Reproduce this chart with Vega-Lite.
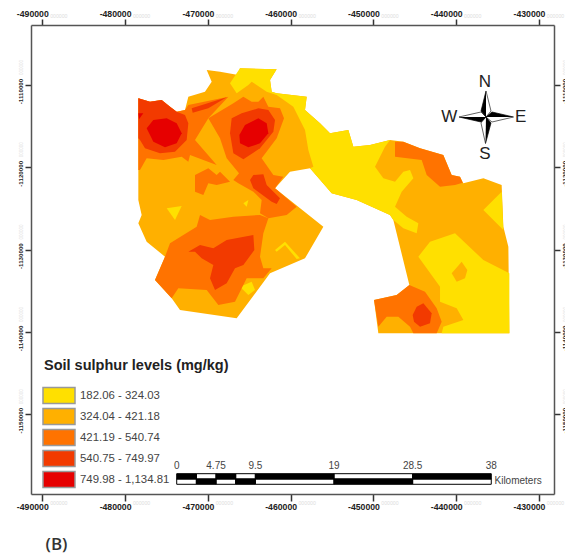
{"$schema":"https://vega.github.io/schema/vega-lite/v6.json","width":523,"height":469,"autosize":"none","padding":{"left":31,"top":25,"right":11,"bottom":63},"background":"white","config":{"view":{"stroke":null},"font":"Liberation Sans"},
"datasets":{
"anchor":[{"x":-490000,"y":-1110000}],
"map":[
{"p":"base","c":"324.04 - 421.18","i":0,"x":-478400,"y":-1111620},{"p":"base","c":"324.04 - 421.18","i":1,"x":-476990,"y":-1112025},{"p":"base","c":"324.04 - 421.18","i":2,"x":-475580,"y":-1111820},{"p":"base","c":"324.04 - 421.18","i":3,"x":-474570,"y":-1112630},{"p":"base","c":"324.04 - 421.18","i":4,"x":-473770,"y":-1113240},{"p":"base","c":"324.04 - 421.18","i":5,"x":-472760,"y":-1113040},{"p":"base","c":"324.04 - 421.18","i":6,"x":-472360,"y":-1111420},{"p":"base","c":"324.04 - 421.18","i":7,"x":-470350,"y":-1110810},{"p":"base","c":"324.04 - 421.18","i":8,"x":-469540,"y":-1109595},{"p":"base","c":"324.04 - 421.18","i":9,"x":-470140,"y":-1108180},{"p":"base","c":"324.04 - 421.18","i":10,"x":-468530,"y":-1108380},{"p":"base","c":"324.04 - 421.18","i":11,"x":-466320,"y":-1108785},{"p":"base","c":"324.04 - 421.18","i":12,"x":-466120,"y":-1107975},{"p":"base","c":"324.04 - 421.18","i":13,"x":-461690,"y":-1108100},{"p":"base","c":"324.04 - 421.18","i":14,"x":-462490,"y":-1109390},{"p":"base","c":"324.04 - 421.18","i":15,"x":-462290,"y":-1110810},{"p":"base","c":"324.04 - 421.18","i":16,"x":-461690,"y":-1111010},{"p":"base","c":"324.04 - 421.18","i":17,"x":-458060,"y":-1111420},{"p":"base","c":"324.04 - 421.18","i":18,"x":-458265,"y":-1113040},{"p":"base","c":"324.04 - 421.18","i":19,"x":-456450,"y":-1114660},{"p":"base","c":"324.04 - 421.18","i":20,"x":-455245,"y":-1115870},{"p":"base","c":"324.04 - 421.18","i":21,"x":-453030,"y":-1115470},{"p":"base","c":"324.04 - 421.18","i":22,"x":-452425,"y":-1117490},{"p":"base","c":"324.04 - 421.18","i":23,"x":-450413,"y":-1117290},{"p":"base","c":"324.04 - 421.18","i":24,"x":-447996,"y":-1116680},{"p":"base","c":"324.04 - 421.18","i":25,"x":-446386,"y":-1116885},{"p":"base","c":"324.04 - 421.18","i":26,"x":-444370,"y":-1117695},{"p":"base","c":"324.04 - 421.18","i":27,"x":-441560,"y":-1118505},{"p":"base","c":"324.04 - 421.18","i":28,"x":-440550,"y":-1120935},{"p":"base","c":"324.04 - 421.18","i":29,"x":-439540,"y":-1121140},{"p":"base","c":"324.04 - 421.18","i":30,"x":-439140,"y":-1121950},{"p":"base","c":"324.04 - 421.18","i":31,"x":-436720,"y":-1121340},{"p":"base","c":"324.04 - 421.18","i":32,"x":-434510,"y":-1122150},{"p":"base","c":"324.04 - 421.18","i":33,"x":-434305,"y":-1127210},{"p":"base","c":"324.04 - 421.18","i":34,"x":-433700,"y":-1129640},{"p":"base","c":"324.04 - 421.18","i":35,"x":-433580,"y":-1140170},{"p":"base","c":"324.04 - 421.18","i":36,"x":-449406,"y":-1140170},{"p":"base","c":"324.04 - 421.18","i":37,"x":-449930,"y":-1136120},{"p":"base","c":"324.04 - 421.18","i":38,"x":-447190,"y":-1135515},{"p":"base","c":"324.04 - 421.18","i":39,"x":-445660,"y":-1134300},{"p":"base","c":"324.04 - 421.18","i":40,"x":-447594,"y":-1126400},{"p":"base","c":"324.04 - 421.18","i":41,"x":-447997,"y":-1125795},{"p":"base","c":"324.04 - 421.18","i":42,"x":-452024,"y":-1123970},{"p":"base","c":"324.04 - 421.18","i":43,"x":-455044,"y":-1123160},{"p":"base","c":"324.04 - 421.18","i":44,"x":-457660,"y":-1120125},{"p":"base","c":"324.04 - 421.18","i":45,"x":-460078,"y":-1120530},{"p":"base","c":"324.04 - 421.18","i":46,"x":-461890,"y":-1122555},{"p":"base","c":"324.04 - 421.18","i":47,"x":-456050,"y":-1127210},{"p":"base","c":"324.04 - 421.18","i":48,"x":-458266,"y":-1131060},{"p":"base","c":"324.04 - 421.18","i":49,"x":-462494,"y":-1132880},{"p":"base","c":"324.04 - 421.18","i":50,"x":-466520,"y":-1138350},{"p":"base","c":"324.04 - 421.18","i":51,"x":-473365,"y":-1137340},{"p":"base","c":"324.04 - 421.18","i":52,"x":-474370,"y":-1135920},{"p":"base","c":"324.04 - 421.18","i":53,"x":-476386,"y":-1133690},{"p":"base","c":"324.04 - 421.18","i":54,"x":-475178,"y":-1130860},{"p":"base","c":"324.04 - 421.18","i":55,"x":-477392,"y":-1129035},{"p":"base","c":"324.04 - 421.18","i":56,"x":-478400,"y":-1126805},{"p":"base","c":"324.04 - 421.18","i":57,"x":-477997,"y":-1125795},{"p":"base","c":"324.04 - 421.18","i":58,"x":-478400,"y":-1123970},
{"p":"y1","c":"182.06 - 324.03","i":0,"x":-466120,"y":-1107975},{"p":"y1","c":"182.06 - 324.03","i":1,"x":-461690,"y":-1108100},{"p":"y1","c":"182.06 - 324.03","i":2,"x":-462490,"y":-1109390},{"p":"y1","c":"182.06 - 324.03","i":3,"x":-462290,"y":-1110810},{"p":"y1","c":"182.06 - 324.03","i":4,"x":-461690,"y":-1111010},{"p":"y1","c":"182.06 - 324.03","i":5,"x":-458060,"y":-1111420},{"p":"y1","c":"182.06 - 324.03","i":6,"x":-458265,"y":-1113040},{"p":"y1","c":"182.06 - 324.03","i":7,"x":-456450,"y":-1114660},{"p":"y1","c":"182.06 - 324.03","i":8,"x":-455245,"y":-1115870},{"p":"y1","c":"182.06 - 324.03","i":9,"x":-453030,"y":-1115470},{"p":"y1","c":"182.06 - 324.03","i":10,"x":-452425,"y":-1117490},{"p":"y1","c":"182.06 - 324.03","i":11,"x":-450413,"y":-1117290},{"p":"y1","c":"182.06 - 324.03","i":12,"x":-447996,"y":-1116680},{"p":"y1","c":"182.06 - 324.03","i":13,"x":-448600,"y":-1117490},{"p":"y1","c":"182.06 - 324.03","i":14,"x":-449810,"y":-1119922},{"p":"y1","c":"182.06 - 324.03","i":15,"x":-448803,"y":-1121340},{"p":"y1","c":"182.06 - 324.03","i":16,"x":-447393,"y":-1121745},{"p":"y1","c":"182.06 - 324.03","i":17,"x":-446386,"y":-1120530},{"p":"y1","c":"182.06 - 324.03","i":18,"x":-445580,"y":-1120327},{"p":"y1","c":"182.06 - 324.03","i":19,"x":-445178,"y":-1121340},{"p":"y1","c":"182.06 - 324.03","i":20,"x":-446588,"y":-1122960},{"p":"y1","c":"182.06 - 324.03","i":21,"x":-447393,"y":-1124780},{"p":"y1","c":"182.06 - 324.03","i":22,"x":-445984,"y":-1125997},{"p":"y1","c":"182.06 - 324.03","i":23,"x":-444574,"y":-1126807},{"p":"y1","c":"182.06 - 324.03","i":24,"x":-444775,"y":-1128020},{"p":"y1","c":"182.06 - 324.03","i":25,"x":-446386,"y":-1127415},{"p":"y1","c":"182.06 - 324.03","i":26,"x":-447594,"y":-1126400},{"p":"y1","c":"182.06 - 324.03","i":27,"x":-447997,"y":-1125795},{"p":"y1","c":"182.06 - 324.03","i":28,"x":-452024,"y":-1123970},{"p":"y1","c":"182.06 - 324.03","i":29,"x":-455044,"y":-1123160},{"p":"y1","c":"182.06 - 324.03","i":30,"x":-457660,"y":-1120125},{"p":"y1","c":"182.06 - 324.03","i":31,"x":-457257,"y":-1119922},{"p":"y1","c":"182.06 - 324.03","i":32,"x":-457862,"y":-1117897},{"p":"y1","c":"182.06 - 324.03","i":33,"x":-458264,"y":-1115467},{"p":"y1","c":"182.06 - 324.03","i":34,"x":-459674,"y":-1112632},{"p":"y1","c":"182.06 - 324.03","i":35,"x":-461687,"y":-1111215},{"p":"y1","c":"182.06 - 324.03","i":36,"x":-462895,"y":-1110810},{"p":"y1","c":"182.06 - 324.03","i":37,"x":-464707,"y":-1109595},{"p":"y1","c":"182.06 - 324.03","i":38,"x":-465111,"y":-1110000},{"p":"y1","c":"182.06 - 324.03","i":39,"x":-466520,"y":-1111012},{"p":"y1","c":"182.06 - 324.03","i":40,"x":-467325,"y":-1109797},
{"p":"y2","c":"182.06 - 324.03","i":0,"x":-444574,"y":-1130857},{"p":"y2","c":"182.06 - 324.03","i":1,"x":-443164,"y":-1129035},{"p":"y2","c":"182.06 - 324.03","i":2,"x":-440145,"y":-1128022},{"p":"y2","c":"182.06 - 324.03","i":3,"x":-436721,"y":-1131262},{"p":"y2","c":"182.06 - 324.03","i":4,"x":-433580,"y":-1132882},{"p":"y2","c":"182.06 - 324.03","i":5,"x":-433580,"y":-1140172},{"p":"y2","c":"182.06 - 324.03","i":6,"x":-441755,"y":-1140172},{"p":"y2","c":"182.06 - 324.03","i":7,"x":-441554,"y":-1139362},{"p":"y2","c":"182.06 - 324.03","i":8,"x":-439137,"y":-1138552},{"p":"y2","c":"182.06 - 324.03","i":9,"x":-439943,"y":-1137135},{"p":"y2","c":"182.06 - 324.03","i":10,"x":-441956,"y":-1136325},{"p":"y2","c":"182.06 - 324.03","i":11,"x":-441956,"y":-1134502},
{"p":"o1","c":"324.04 - 421.18","i":0,"x":-440547,"y":-1132882},{"p":"o1","c":"324.04 - 421.18","i":1,"x":-439340,"y":-1131465},{"p":"o1","c":"324.04 - 421.18","i":2,"x":-438654,"y":-1132477},{"p":"o1","c":"324.04 - 421.18","i":3,"x":-438936,"y":-1133490},{"p":"o1","c":"324.04 - 421.18","i":4,"x":-439943,"y":-1133895},
{"p":"y3","c":"182.06 - 324.03","i":0,"x":-436721,"y":-1125187},{"p":"y3","c":"182.06 - 324.03","i":1,"x":-434506,"y":-1122960},{"p":"y3","c":"182.06 - 324.03","i":2,"x":-434305,"y":-1127617},
{"p":"y4","c":"182.06 - 324.03","i":0,"x":-474976,"y":-1124985},{"p":"y4","c":"182.06 - 324.03","i":1,"x":-473164,"y":-1124701},{"p":"y4","c":"182.06 - 324.03","i":2,"x":-473970,"y":-1126402},
{"p":"y5","c":"182.06 - 324.03","i":0,"x":-465714,"y":-1124377},{"p":"y5","c":"182.06 - 324.03","i":1,"x":-465110,"y":-1123972},{"p":"y5","c":"182.06 - 324.03","i":2,"x":-465311,"y":-1124782},
{"p":"y6","c":"182.06 - 324.03","i":0,"x":-466117,"y":-1134502},{"p":"y6","c":"182.06 - 324.03","i":1,"x":-464708,"y":-1133895},{"p":"y6","c":"182.06 - 324.03","i":2,"x":-464305,"y":-1134907},{"p":"y6","c":"182.06 - 324.03","i":3,"x":-465110,"y":-1135515},
{"p":"y7","c":"182.06 - 324.03","i":0,"x":-461888,"y":-1130047},{"p":"y7","c":"182.06 - 324.03","i":1,"x":-460680,"y":-1129035},{"p":"y7","c":"182.06 - 324.03","i":2,"x":-458868,"y":-1131060},{"p":"y7","c":"182.06 - 324.03","i":3,"x":-459270,"y":-1131140},{"p":"y7","c":"182.06 - 324.03","i":4,"x":-460680,"y":-1129440},{"p":"y7","c":"182.06 - 324.03","i":5,"x":-461687,"y":-1130250},
{"p":"c1","c":"421.19 - 540.74","i":0,"x":-478400,"y":-1111620},{"p":"c1","c":"421.19 - 540.74","i":1,"x":-476990,"y":-1112025},{"p":"c1","c":"421.19 - 540.74","i":2,"x":-475580,"y":-1111820},{"p":"c1","c":"421.19 - 540.74","i":3,"x":-474570,"y":-1112630},{"p":"c1","c":"421.19 - 540.74","i":4,"x":-473770,"y":-1113240},{"p":"c1","c":"421.19 - 540.74","i":5,"x":-472760,"y":-1113040},{"p":"c1","c":"421.19 - 540.74","i":6,"x":-472360,"y":-1112430},{"p":"c1","c":"421.19 - 540.74","i":7,"x":-467526,"y":-1111417},{"p":"c1","c":"421.19 - 540.74","i":8,"x":-469943,"y":-1114050},{"p":"c1","c":"421.19 - 540.74","i":9,"x":-471553,"y":-1116682},{"p":"c1","c":"421.19 - 540.74","i":10,"x":-468936,"y":-1119720},{"p":"c1","c":"421.19 - 540.74","i":11,"x":-472157,"y":-1118505},{"p":"c1","c":"421.19 - 540.74","i":12,"x":-472359,"y":-1119315},{"p":"c1","c":"421.19 - 540.74","i":13,"x":-473164,"y":-1118707},{"p":"c1","c":"421.19 - 540.74","i":14,"x":-475379,"y":-1119112},{"p":"c1","c":"421.19 - 540.74","i":15,"x":-477393,"y":-1118910},{"p":"c1","c":"421.19 - 540.74","i":16,"x":-478198,"y":-1120327},{"p":"c1","c":"421.19 - 540.74","i":17,"x":-478399,"y":-1120327},
{"p":"c2","c":"421.19 - 540.74","i":0,"x":-469943,"y":-1114050},{"p":"c2","c":"421.19 - 540.74","i":1,"x":-466922,"y":-1112227},{"p":"c2","c":"421.19 - 540.74","i":2,"x":-465714,"y":-1111417},{"p":"c2","c":"421.19 - 540.74","i":3,"x":-464707,"y":-1112025},{"p":"c2","c":"421.19 - 540.74","i":4,"x":-463902,"y":-1112025},{"p":"c2","c":"421.19 - 540.74","i":5,"x":-463298,"y":-1111417},{"p":"c2","c":"421.19 - 540.74","i":6,"x":-462694,"y":-1112632},{"p":"c2","c":"421.19 - 540.74","i":7,"x":-461284,"y":-1112835},{"p":"c2","c":"421.19 - 540.74","i":8,"x":-460801,"y":-1114050},{"p":"c2","c":"421.19 - 540.74","i":9,"x":-461687,"y":-1116480},{"p":"c2","c":"421.19 - 540.74","i":10,"x":-463502,"y":-1118910},{"p":"c2","c":"421.19 - 540.74","i":11,"x":-462092,"y":-1120935},{"p":"c2","c":"421.19 - 540.74","i":12,"x":-460884,"y":-1121137},{"p":"c2","c":"421.19 - 540.74","i":13,"x":-461888,"y":-1122555},{"p":"c2","c":"421.19 - 540.74","i":14,"x":-459271,"y":-1124782},{"p":"c2","c":"421.19 - 540.74","i":15,"x":-460479,"y":-1125795},{"p":"c2","c":"421.19 - 540.74","i":16,"x":-462694,"y":-1126200},{"p":"c2","c":"421.19 - 540.74","i":17,"x":-463701,"y":-1125592},{"p":"c2","c":"421.19 - 540.74","i":18,"x":-463500,"y":-1123972},{"p":"c2","c":"421.19 - 540.74","i":19,"x":-464506,"y":-1122960},{"p":"c2","c":"421.19 - 540.74","i":20,"x":-466318,"y":-1121947},{"p":"c2","c":"421.19 - 540.74","i":21,"x":-466922,"y":-1121542},{"p":"c2","c":"421.19 - 540.74","i":22,"x":-466238,"y":-1120732},{"p":"c2","c":"421.19 - 540.74","i":23,"x":-467728,"y":-1118910},{"p":"c2","c":"421.19 - 540.74","i":24,"x":-468533,"y":-1116480},
{"p":"c3","c":"421.19 - 540.74","i":0,"x":-471553,"y":-1120935},{"p":"c3","c":"421.19 - 540.74","i":1,"x":-469943,"y":-1120125},{"p":"c3","c":"421.19 - 540.74","i":2,"x":-468936,"y":-1120935},{"p":"c3","c":"421.19 - 540.74","i":3,"x":-468533,"y":-1120530},{"p":"c3","c":"421.19 - 540.74","i":4,"x":-467325,"y":-1121745},{"p":"c3","c":"421.19 - 540.74","i":5,"x":-468936,"y":-1122150},{"p":"c3","c":"421.19 - 540.74","i":6,"x":-469943,"y":-1121947},{"p":"c3","c":"421.19 - 540.74","i":7,"x":-470547,"y":-1123365},{"p":"c3","c":"421.19 - 540.74","i":8,"x":-471553,"y":-1122960},
{"p":"c4","c":"421.19 - 540.74","i":0,"x":-470949,"y":-1125795},{"p":"c4","c":"421.19 - 540.74","i":1,"x":-469741,"y":-1126402},{"p":"c4","c":"421.19 - 540.74","i":2,"x":-466922,"y":-1125997},{"p":"c4","c":"421.19 - 540.74","i":3,"x":-463701,"y":-1125795},{"p":"c4","c":"421.19 - 540.74","i":4,"x":-462694,"y":-1126200},{"p":"c4","c":"421.19 - 540.74","i":5,"x":-463298,"y":-1128022},{"p":"c4","c":"421.19 - 540.74","i":6,"x":-463701,"y":-1130857},{"p":"c4","c":"421.19 - 540.74","i":7,"x":-463298,"y":-1132275},{"p":"c4","c":"421.19 - 540.74","i":8,"x":-462291,"y":-1132275},{"p":"c4","c":"421.19 - 540.74","i":9,"x":-463298,"y":-1133490},{"p":"c4","c":"421.19 - 540.74","i":10,"x":-465311,"y":-1133490},{"p":"c4","c":"421.19 - 540.74","i":11,"x":-466721,"y":-1136325},{"p":"c4","c":"421.19 - 540.74","i":12,"x":-468734,"y":-1136730},{"p":"c4","c":"421.19 - 540.74","i":13,"x":-470144,"y":-1134907},{"p":"c4","c":"421.19 - 540.74","i":14,"x":-473567,"y":-1134705},{"p":"c4","c":"421.19 - 540.74","i":15,"x":-474372,"y":-1135920},{"p":"c4","c":"421.19 - 540.74","i":16,"x":-476386,"y":-1133690},{"p":"c4","c":"421.19 - 540.74","i":17,"x":-475178,"y":-1130860},{"p":"c4","c":"421.19 - 540.74","i":18,"x":-474574,"y":-1129237},{"p":"c4","c":"421.19 - 540.74","i":19,"x":-471352,"y":-1127212},
{"p":"c5","c":"421.19 - 540.74","i":0,"x":-447393,"y":-1116885},{"p":"c5","c":"421.19 - 540.74","i":1,"x":-446386,"y":-1116885},{"p":"c5","c":"421.19 - 540.74","i":2,"x":-444370,"y":-1117695},{"p":"c5","c":"421.19 - 540.74","i":3,"x":-441560,"y":-1118505},{"p":"c5","c":"421.19 - 540.74","i":4,"x":-440550,"y":-1120935},{"p":"c5","c":"421.19 - 540.74","i":5,"x":-439540,"y":-1121140},{"p":"c5","c":"421.19 - 540.74","i":6,"x":-439218,"y":-1121866},{"p":"c5","c":"421.19 - 540.74","i":7,"x":-440145,"y":-1122150},{"p":"c5","c":"421.19 - 540.74","i":8,"x":-441957,"y":-1122352},{"p":"c5","c":"421.19 - 540.74","i":9,"x":-443567,"y":-1120935},{"p":"c5","c":"421.19 - 540.74","i":10,"x":-444172,"y":-1119112},{"p":"c5","c":"421.19 - 540.74","i":11,"x":-447393,"y":-1118707},
{"p":"c6","c":"421.19 - 540.74","i":0,"x":-449930,"y":-1136122},{"p":"c6","c":"421.19 - 540.74","i":1,"x":-447190,"y":-1135515},{"p":"c6","c":"421.19 - 540.74","i":2,"x":-445660,"y":-1134300},{"p":"c6","c":"421.19 - 540.74","i":3,"x":-443768,"y":-1135110},{"p":"c6","c":"421.19 - 540.74","i":4,"x":-442359,"y":-1137135},{"p":"c6","c":"421.19 - 540.74","i":5,"x":-441755,"y":-1138755},{"p":"c6","c":"421.19 - 540.74","i":6,"x":-442359,"y":-1140172},{"p":"c6","c":"421.19 - 540.74","i":7,"x":-445178,"y":-1140172},{"p":"c6","c":"421.19 - 540.74","i":8,"x":-445581,"y":-1139362},{"p":"c6","c":"421.19 - 540.74","i":9,"x":-446990,"y":-1138147},{"p":"c6","c":"421.19 - 540.74","i":10,"x":-448400,"y":-1138147},{"p":"c6","c":"421.19 - 540.74","i":11,"x":-449406,"y":-1139362},
{"p":"d1","c":"540.75 - 749.97","i":0,"x":-478400,"y":-1111620},{"p":"d1","c":"540.75 - 749.97","i":1,"x":-476990,"y":-1112025},{"p":"d1","c":"540.75 - 749.97","i":2,"x":-475580,"y":-1111820},{"p":"d1","c":"540.75 - 749.97","i":3,"x":-474570,"y":-1112630},{"p":"d1","c":"540.75 - 749.97","i":4,"x":-473770,"y":-1113240},{"p":"d1","c":"540.75 - 749.97","i":5,"x":-472761,"y":-1113645},{"p":"d1","c":"540.75 - 749.97","i":6,"x":-472359,"y":-1114657},{"p":"d1","c":"540.75 - 749.97","i":7,"x":-472560,"y":-1116682},{"p":"d1","c":"540.75 - 749.97","i":8,"x":-473970,"y":-1118100},{"p":"d1","c":"540.75 - 749.97","i":9,"x":-475782,"y":-1118302},{"p":"d1","c":"540.75 - 749.97","i":10,"x":-477594,"y":-1117695},{"p":"d1","c":"540.75 - 749.97","i":11,"x":-478198,"y":-1116682},{"p":"d1","c":"540.75 - 749.97","i":12,"x":-478399,"y":-1116480},
{"p":"d2","c":"540.75 - 749.97","i":0,"x":-467124,"y":-1114050},{"p":"d2","c":"540.75 - 749.97","i":1,"x":-465916,"y":-1113442},{"p":"d2","c":"540.75 - 749.97","i":2,"x":-463902,"y":-1112835},{"p":"d2","c":"540.75 - 749.97","i":3,"x":-462694,"y":-1113037},{"p":"d2","c":"540.75 - 749.97","i":4,"x":-461888,"y":-1114252},{"p":"d2","c":"540.75 - 749.97","i":5,"x":-462090,"y":-1115670},{"p":"d2","c":"540.75 - 749.97","i":6,"x":-463701,"y":-1117695},{"p":"d2","c":"540.75 - 749.97","i":7,"x":-465714,"y":-1119031},{"p":"d2","c":"540.75 - 749.97","i":8,"x":-466922,"y":-1118302},{"p":"d2","c":"540.75 - 749.97","i":9,"x":-467325,"y":-1115872},
{"p":"d3","c":"540.75 - 749.97","i":0,"x":-464909,"y":-1121542},{"p":"d3","c":"540.75 - 749.97","i":1,"x":-464506,"y":-1120935},{"p":"d3","c":"540.75 - 749.97","i":2,"x":-463298,"y":-1120854},{"p":"d3","c":"540.75 - 749.97","i":3,"x":-462895,"y":-1122150},{"p":"d3","c":"540.75 - 749.97","i":4,"x":-461284,"y":-1123770},{"p":"d3","c":"540.75 - 749.97","i":5,"x":-461687,"y":-1124458},{"p":"d3","c":"540.75 - 749.97","i":6,"x":-462291,"y":-1124175},{"p":"d3","c":"540.75 - 749.97","i":7,"x":-464506,"y":-1122555},
{"p":"d4","c":"540.75 - 749.97","i":0,"x":-472359,"y":-1130250},{"p":"d4","c":"540.75 - 749.97","i":1,"x":-470949,"y":-1129440},{"p":"d4","c":"540.75 - 749.97","i":2,"x":-469338,"y":-1129845},{"p":"d4","c":"540.75 - 749.97","i":3,"x":-467728,"y":-1128832},{"p":"d4","c":"540.75 - 749.97","i":4,"x":-464506,"y":-1128225},{"p":"d4","c":"540.75 - 749.97","i":5,"x":-464385,"y":-1130047},{"p":"d4","c":"540.75 - 749.97","i":6,"x":-465714,"y":-1131870},{"p":"d4","c":"540.75 - 749.97","i":7,"x":-466721,"y":-1132275},{"p":"d4","c":"540.75 - 749.97","i":8,"x":-467728,"y":-1134097},{"p":"d4","c":"540.75 - 749.97","i":9,"x":-469137,"y":-1134907},{"p":"d4","c":"540.75 - 749.97","i":10,"x":-469741,"y":-1133490},{"p":"d4","c":"540.75 - 749.97","i":11,"x":-469338,"y":-1131870},{"p":"d4","c":"540.75 - 749.97","i":12,"x":-470748,"y":-1131060},{"p":"d4","c":"540.75 - 749.97","i":13,"x":-471553,"y":-1130250},
{"p":"d5","c":"540.75 - 749.97","i":0,"x":-471956,"y":-1112835},{"p":"d5","c":"540.75 - 749.97","i":1,"x":-467728,"y":-1111498},{"p":"d5","c":"540.75 - 749.97","i":2,"x":-469943,"y":-1112835},{"p":"d5","c":"540.75 - 749.97","i":3,"x":-471835,"y":-1113361},
{"p":"d6","c":"540.75 - 749.97","i":0,"x":-445259,"y":-1137945},{"p":"d6","c":"540.75 - 749.97","i":1,"x":-444775,"y":-1136932},{"p":"d6","c":"540.75 - 749.97","i":2,"x":-443970,"y":-1136527},{"p":"d6","c":"540.75 - 749.97","i":3,"x":-442963,"y":-1137742},{"p":"d6","c":"540.75 - 749.97","i":4,"x":-443164,"y":-1138957},{"p":"d6","c":"540.75 - 749.97","i":5,"x":-444372,"y":-1139362},{"p":"d6","c":"540.75 - 749.97","i":6,"x":-445097,"y":-1138755},
{"p":"e1","c":"749.98 - 1,134.81","i":0,"x":-477393,"y":-1115265},{"p":"e1","c":"749.98 - 1,134.81","i":1,"x":-476587,"y":-1114252},{"p":"e1","c":"749.98 - 1,134.81","i":2,"x":-474976,"y":-1114050},{"p":"e1","c":"749.98 - 1,134.81","i":3,"x":-473768,"y":-1114657},{"p":"e1","c":"749.98 - 1,134.81","i":4,"x":-473164,"y":-1115872},{"p":"e1","c":"749.98 - 1,134.81","i":5,"x":-473768,"y":-1117087},{"p":"e1","c":"749.98 - 1,134.81","i":6,"x":-475178,"y":-1117573},{"p":"e1","c":"749.98 - 1,134.81","i":7,"x":-476587,"y":-1116885},
{"p":"e2","c":"749.98 - 1,134.81","i":0,"x":-466197,"y":-1116075},{"p":"e2","c":"749.98 - 1,134.81","i":1,"x":-465513,"y":-1114860},{"p":"e2","c":"749.98 - 1,134.81","i":2,"x":-463902,"y":-1114050},{"p":"e2","c":"749.98 - 1,134.81","i":3,"x":-462895,"y":-1114657},{"p":"e2","c":"749.98 - 1,134.81","i":4,"x":-462694,"y":-1115872},{"p":"e2","c":"749.98 - 1,134.81","i":5,"x":-463701,"y":-1117087},{"p":"e2","c":"749.98 - 1,134.81","i":6,"x":-465110,"y":-1117573},{"p":"e2","c":"749.98 - 1,134.81","i":7,"x":-466117,"y":-1117087},
{"p":"e3","c":"749.98 - 1,134.81","i":0,"x":-478399,"y":-1113442},{"p":"e3","c":"749.98 - 1,134.81","i":1,"x":-477795,"y":-1113442},{"p":"e3","c":"749.98 - 1,134.81","i":2,"x":-478319,"y":-1114171}
],
"starDark":[
{"p":"n","i":0,"x":-436401,"y":-1110729},{"p":"n","i":1,"x":-437005,"y":-1113159},{"p":"n","i":2,"x":-436401,"y":-1113888},
{"p":"e","i":0,"x":-433079,"y":-1113888},{"p":"e","i":1,"x":-435676,"y":-1113280},{"p":"e","i":2,"x":-436401,"y":-1113888},
{"p":"s","i":0,"x":-436461,"y":-1117108},{"p":"s","i":1,"x":-435797,"y":-1114617},{"p":"s","i":2,"x":-436401,"y":-1113888},
{"p":"w","i":0,"x":-439663,"y":-1113888},{"p":"w","i":1,"x":-437005,"y":-1114496},{"p":"w","i":2,"x":-436401,"y":-1113888}],
"starLight":[
{"p":"n","i":0,"x":-436401,"y":-1110729},{"p":"n","i":1,"x":-435797,"y":-1113159},{"p":"n","i":2,"x":-436401,"y":-1113888},
{"p":"e","i":0,"x":-433079,"y":-1113888},{"p":"e","i":1,"x":-435676,"y":-1114496},{"p":"e","i":2,"x":-436401,"y":-1113888},
{"p":"s","i":0,"x":-436461,"y":-1117108},{"p":"s","i":1,"x":-437005,"y":-1114617},{"p":"s","i":2,"x":-436401,"y":-1113888},
{"p":"w","i":0,"x":-439663,"y":-1113888},{"p":"w","i":1,"x":-437005,"y":-1113280},{"p":"w","i":2,"x":-436401,"y":-1113888}],
"barDark":[
{"x":-473764,"x2":-471389,"y":-1157227,"y2":-1157871},{"x":-469014,"x2":-466639,"y":-1157227,"y2":-1157871},{"x":-464264,"x2":-454764,"y":-1157227,"y2":-1157871},{"x":-445264,"x2":-435764,"y":-1157227,"y2":-1157871},
{"x":-471389,"x2":-469014,"y":-1157871,"y2":-1158515},{"x":-466639,"x2":-464264,"y":-1157871,"y2":-1158515},{"x":-454764,"x2":-445264,"y":-1157871,"y2":-1158515}],
"barLight":[
{"x":-471389,"x2":-469014,"y":-1157227,"y2":-1157871},{"x":-466639,"x2":-464264,"y":-1157227,"y2":-1157871},{"x":-454764,"x2":-445264,"y":-1157227,"y2":-1157871},
{"x":-473764,"x2":-471389,"y":-1157871,"y2":-1158515},{"x":-469014,"x2":-466639,"y":-1157871,"y2":-1158515},{"x":-464264,"x2":-454764,"y":-1157871,"y2":-1158515},{"x":-445264,"x2":-435764,"y":-1157871,"y2":-1158515}],
"barText":[{"t":"0","x":-473764,"y":-1156292},{"t":"4.75","x":-469014,"y":-1156292},{"t":"9.5","x":-464264,"y":-1156292},{"t":"19","x":-454764,"y":-1156292},{"t":"28.5","x":-445264,"y":-1156292},{"t":"38","x":-435764,"y":-1156292}],
"compass":[{"t":"N","x":-436522,"y":-1109600},{"t":"S","x":-436522,"y":-1118384},{"t":"W","x":-440834,"y":-1113852},{"t":"E","x":-432209,"y":-1113924}]
},
"encoding":{
"x":{"field":"x","type":"quantitative","scale":{"domain":[-491365,-428187],"nice":false,"zero":false},"axis":null},
"y":{"field":"y","type":"quantitative","scale":{"domain":[-1159694,-1102710],"nice":false,"zero":false},"axis":null}},
"resolve":{"axis":{"x":"independent","y":"independent"}},
"layer":[
{"data":{"name":"anchor"},"mark":{"type":"point","opacity":0},
"encoding":{
"x":{"field":"x","type":"quantitative","scale":{"domain":[-491365,-428187],"nice":false,"zero":false},"axis":{"orient":"bottom","title":null,"values":[-490000,-480000,-470000,-460000,-450000,-440000,-430000],"labelExpr":"'-'+format(abs(datum.value),'d')","labelFont":"Liberation Sans","labelFontSize":8.7,"labelFontWeight":"bold","labelColor":"#222","labelOffset":-10,"labelPadding":1,"labelFlush":false,"labelOverlap":false,"labelBound":false,"tickSize":7,"tickColor":"#333","tickWidth":1.5,"domainColor":"#555","domainWidth":1.5,"grid":false}},
"y":{"field":"y","type":"quantitative","scale":{"domain":[-1159694,-1102710],"nice":false,"zero":false},"axis":{"orient":"left","title":null,"values":[-1110000,-1120000,-1130000,-1140000,-1150000],"labelExpr":"'-'+format(abs(datum.value),'d')","labelFont":"Liberation Sans","labelFontSize":6.2,"labelFontWeight":"bold","labelColor":"#222","labelAngle":-90,"labelOffset":6,"labelPadding":1.5,"labelFlush":false,"labelOverlap":false,"labelBound":false,"tickSize":6,"tickColor":"#333","tickWidth":1.5,"domainColor":"#555","domainWidth":1.5,"grid":false}}}},
{"data":{"name":"anchor"},"mark":{"type":"point","opacity":0},
"encoding":{
"x":{"field":"x","type":"quantitative","scale":{"domain":[-491365,-428187],"nice":false,"zero":false},"axis":{"orient":"top","title":null,"values":[-490000,-480000,-470000,-460000,-450000,-440000,-430000],"labelExpr":"'-'+format(abs(datum.value),'d')","labelFont":"Liberation Sans","labelFontSize":8.7,"labelFontWeight":"bold","labelColor":"#222","labelOffset":-10,"labelPadding":1,"labelFlush":false,"labelOverlap":false,"labelBound":false,"tickSize":6,"tickColor":"#333","tickWidth":1.5,"domainColor":"#555","domainWidth":1.5,"grid":false}},
"y":{"field":"y","type":"quantitative","scale":{"domain":[-1159694,-1102710],"nice":false,"zero":false},"axis":{"orient":"right","title":null,"values":[-1110000,-1120000,-1130000,-1140000,-1150000],"labelExpr":"'-'+format(abs(datum.value),'d')","labelFont":"Liberation Sans","labelFontSize":6.2,"labelFontWeight":"bold","labelColor":"#222","labelAngle":-90,"labelOffset":6,"labelPadding":1.5,"labelFlush":false,"labelOverlap":false,"labelBound":false,"tickSize":6,"tickColor":"#333","tickWidth":1.5,"domainColor":"#555","domainWidth":1.5,"grid":false}}}},
{"data":{"name":"anchor"},"mark":{"type":"point","opacity":0},
"encoding":{
"x":{"field":"x","type":"quantitative","scale":{"domain":[-491365,-428187],"nice":false,"zero":false},"axis":{"orient":"bottom","title":null,"values":[-490000,-480000,-470000,-460000,-450000,-440000,-430000],"labelExpr":"'000000'","labelFont":"Liberation Sans","labelFontSize":5.2,"labelColor":"#dddddd","labelOffset":16,"labelPadding":6,"labelFlush":false,"labelOverlap":false,"labelBound":false,"ticks":false,"tickSize":0,"domain":false,"grid":false}},
"y":{"field":"y","type":"quantitative","scale":{"domain":[-1159694,-1102710],"nice":false,"zero":false},"axis":{"orient":"left","title":null,"values":[-1110000,-1120000,-1130000,-1140000,-1150000],"labelExpr":"'000000'","labelFont":"Liberation Sans","labelFontSize":4.5,"labelColor":"#dddddd","labelAngle":-90,"labelOffset":-18,"labelPadding":8,"labelFlush":false,"labelOverlap":false,"labelBound":false,"ticks":false,"tickSize":0,"domain":false,"grid":false}}}},
{"data":{"name":"anchor"},"mark":{"type":"point","opacity":0},
"encoding":{
"x":{"field":"x","type":"quantitative","scale":{"domain":[-491365,-428187],"nice":false,"zero":false},"axis":{"orient":"top","title":null,"values":[-490000,-480000,-470000,-460000,-450000,-440000,-430000],"labelExpr":"'000000'","labelFont":"Liberation Sans","labelFontSize":5.2,"labelColor":"#dddddd","labelOffset":16,"labelPadding":7,"labelFlush":false,"labelOverlap":false,"labelBound":false,"ticks":false,"tickSize":0,"domain":false,"grid":false}},
"y":{"field":"y","type":"quantitative","scale":{"domain":[-1159694,-1102710],"nice":false,"zero":false},"axis":{"orient":"right","title":null,"values":[-1110000,-1120000,-1130000,-1140000,-1150000],"labelExpr":"'000000'","labelFont":"Liberation Sans","labelFontSize":4.5,"labelColor":"#dddddd","labelAngle":-90,"labelOffset":-18,"labelPadding":8,"labelFlush":false,"labelOverlap":false,"labelBound":false,"ticks":false,"tickSize":0,"domain":false,"grid":false}}}},
{"data":{"name":"map"},"mark":{"type":"line","strokeWidth":0,"interpolate":"linear"},
"encoding":{"detail":{"field":"p"},"order":{"field":"i","type":"quantitative"},
"fill":{"field":"c","type":"nominal","scale":{"domain":["182.06 - 324.03","324.04 - 421.18","421.19 - 540.74","540.75 - 749.97","749.98 - 1,134.81"],"range":["#ffe000","#ffb000","#ff7300","#f23a00","#e60000"]},
"legend":{"orient":"none","legendX":13,"legendY":334,"title":"Soil sulphur levels (mg/kg)","titleFont":"Liberation Sans","titleFontSize":14.5,"titleFontWeight":"bold","titleColor":"#222","titleLimit":300,"titlePadding":13,"padding":0,"labelFont":"Liberation Sans","labelFontSize":11.4,"labelColor":"#444","labelOffset":18,"labelLimit":200,"rowPadding":-1,"symbolType":"M-1.25,-1H2.75V1H-1.25Z","symbolSize":256,"symbolOpacity":1,"symbolStrokeColor":"#999","symbolStrokeWidth":1.5}}}},
{"data":{"name":"starLight"},"mark":{"type":"line","fill":"white","stroke":"#222","strokeWidth":0.7},"encoding":{"detail":{"field":"p"},"order":{"field":"i","type":"quantitative"}}},
{"data":{"name":"starDark"},"mark":{"type":"line","fill":"black","stroke":"black","strokeWidth":0.7},"encoding":{"detail":{"field":"p"},"order":{"field":"i","type":"quantitative"}}},
{"data":{"name":"barLight"},"mark":{"type":"rect","fill":"white","stroke":"black","strokeWidth":1},"encoding":{"x2":{"field":"x2"},"y2":{"field":"y2"}}},
{"data":{"name":"barDark"},"mark":{"type":"rect","fill":"black","stroke":"black","strokeWidth":1},"encoding":{"x2":{"field":"x2"},"y2":{"field":"y2"}}},
{"data":{"name":"barText"},"mark":{"type":"text","font":"Liberation Sans","fontSize":10,"color":"#444","align":"center","baseline":"middle"},"encoding":{"text":{"field":"t"}}},
{"data":{"values":[{"t":"Kilometers","x":-435374,"y":-1158114}]},"mark":{"type":"text","font":"Liberation Sans","fontSize":10,"color":"#444","align":"left","baseline":"middle"},"encoding":{"text":{"field":"t"}}},
{"data":{"name":"compass"},"mark":{"type":"text","font":"Liberation Sans","fontSize":17,"color":"#222","align":"center","baseline":"middle"},"encoding":{"text":{"field":"t"}}},
{"data":{"values":[{"t":"(B)","x":-488285,"y":-1165854}]},"mark":{"type":"text","font":"Open Sans","fontSize":17,"fontWeight":600,"color":"#333","align":"center","baseline":"middle"},"encoding":{"text":{"field":"t"}}}
]}
